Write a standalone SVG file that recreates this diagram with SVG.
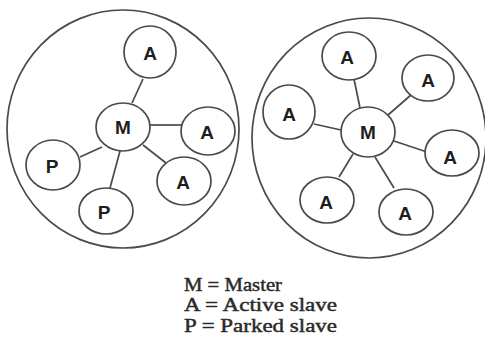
<svg xmlns="http://www.w3.org/2000/svg" width="485" height="346" viewBox="0 0 485 346">
  <style>
    .big { fill: none; stroke: #4a4a4a; stroke-width: 1.7; }
    .node ellipse { fill: #fff; stroke: #4a4a4a; stroke-width: 1.7; }
    .node text { font-family: "Liberation Sans", Arial, sans-serif; font-weight: bold; font-size: 19px; fill: #1e1e1e; text-anchor: middle; }
    .links line { stroke: #4a4a4a; stroke-width: 1.7; }
    .legend text { font-family: "Liberation Serif", "Times New Roman", serif; font-size: 18.5px; fill: #2a2a2a; stroke: #2a2a2a; stroke-width: 0.45; }
  </style>
  <rect width="485" height="346" fill="#fff"/>

  <!-- piconet boundaries -->
  <ellipse id="piconet-left" class="big" cx="123" cy="129" rx="116" ry="119"/>
  <ellipse id="piconet-right" class="big" cx="369" cy="138" rx="117" ry="120"/>

  <!-- links from each master to its slaves -->
  <g id="connectors" class="links">
    <line x1="132" y1="103" x2="143" y2="79"/>
    <line x1="150" y1="125" x2="182" y2="125"/>
    <line x1="102" y1="147" x2="80" y2="157"/>
    <line x1="120" y1="151" x2="110" y2="188"/>
    <line x1="143" y1="145" x2="166" y2="163"/>

    <line x1="360" y1="108" x2="354" y2="79"/>
    <line x1="388" y1="115" x2="411" y2="95"/>
    <line x1="341" y1="130" x2="314" y2="124"/>
    <line x1="394" y1="141" x2="427" y2="152"/>
    <line x1="353" y1="154" x2="339" y2="177"/>
    <line x1="375" y1="157" x2="394" y2="188"/>
  </g>

  <!-- left piconet -->
  <g id="left-master" class="node"><ellipse cx="123" cy="127" rx="27" ry="24"/><text x="123" y="134">M</text></g>
  <g id="left-active-top" class="node"><ellipse cx="150" cy="52" rx="26" ry="26"/><text x="150" y="60">A</text></g>
  <g id="left-active-right" class="node"><ellipse cx="208" cy="131" rx="27" ry="24"/><text x="207" y="139">A</text></g>
  <g id="left-active-low" class="node"><ellipse cx="184" cy="181" rx="27" ry="24"/><text x="183" y="189">A</text></g>
  <g id="left-parked-left" class="node"><ellipse cx="53" cy="165" rx="27" ry="25"/><text x="52" y="173">P</text></g>
  <g id="left-parked-bottom" class="node"><ellipse cx="106" cy="211" rx="27" ry="23"/><text x="104" y="219">P</text></g>

  <!-- right piconet -->
  <g id="right-master" class="node"><ellipse cx="368" cy="132" rx="27" ry="25"/><text x="368" y="139">M</text></g>
  <g id="right-active-top" class="node"><ellipse cx="349" cy="56" rx="27" ry="24"/><text x="347" y="64">A</text></g>
  <g id="right-active-upper-right" class="node"><ellipse cx="428" cy="78" rx="26" ry="23"/><text x="428" y="87">A</text></g>
  <g id="right-active-left" class="node"><ellipse cx="289" cy="112" rx="26" ry="27"/><text x="289" y="121">A</text></g>
  <g id="right-active-right" class="node"><ellipse cx="452" cy="153" rx="27" ry="23"/><text x="450" y="164">A</text></g>
  <g id="right-active-lower-left" class="node"><ellipse cx="327" cy="200" rx="27" ry="23"/><text x="326" y="209">A</text></g>
  <g id="right-active-lower-right" class="node"><ellipse cx="406" cy="212" rx="27" ry="23"/><text x="405" y="220">A</text></g>

  <!-- key -->
  <g id="legend" class="legend">
    <text x="184" y="291" textLength="98" lengthAdjust="spacingAndGlyphs">M = Master</text>
    <text x="184" y="311" textLength="153" lengthAdjust="spacingAndGlyphs">A = Active slave</text>
    <text x="184" y="332" textLength="153" lengthAdjust="spacingAndGlyphs">P = Parked slave</text>
  </g>
</svg>
